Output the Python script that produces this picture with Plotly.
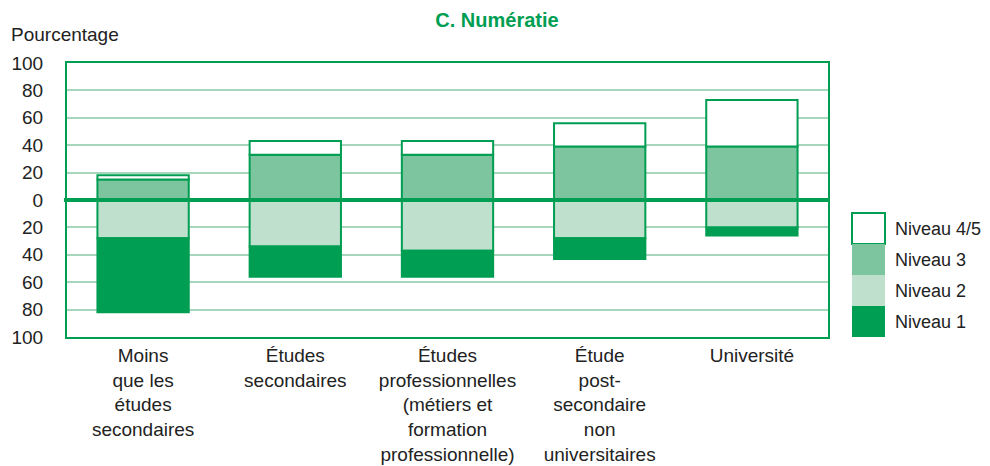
import plotly.graph_objects as go

categories = [
    "Moins<br>que les<br>études<br>secondaires",
    "Études<br>secondaires",
    "Études<br>professionnelles<br>(métiers et<br>formation<br>professionnelle)",
    "Étude<br>post-<br>secondaire<br>non<br>universitaires",
    "Université",
]
niveau_45 = [3, 10, 10, 17, 34]
niveau_3 = [15, 33, 33, 39, 39]
niveau_2 = [28, 34, 37, 28, 20]
niveau_1 = [54, 22, 19, 15, 6]

tick_vals = [100, 80, 60, 40, 20, 0, -20, -40, -60, -80, -100]
tick_text = ["100", "80", "60", "40", "20", "0", "20", "40", "60", "80", "100"]

GREEN = "#009E52"
C3 = "#7CC59E"
C2 = "#BFE0CD"
C1 = "#009E52"
C45 = "#FFFFFF"
GRID = "#A6D7BC"
FONT = "Liberation Sans, Arial, sans-serif"
TXT = "#222222"
FS = 19

# page body has an 8px margin: work in screen pixels, offset by 8
OFF = 8
W, H = 990 - OFF, 466 - OFF
L, T, R, B = 67, 63, 828, 337  # plot area in screen pixels

fig = go.Figure()
series = [
    ("Niveau 3", niveau_3, C3, 1),
    ("Niveau 4/5", niveau_45, C45, 1),
    ("Niveau 2", niveau_2, C2, -1),
    ("Niveau 1", niveau_1, C1, -1),
]
for name, vals, col, sign in series:
    fig.add_trace(go.Bar(
        x=categories, y=[sign * v for v in vals], name=name,
        marker=dict(color=col, line=dict(color=GREEN, width=2)),
        width=0.6, showlegend=False, hoverinfo="skip",
    ))

fig.update_layout(
    width=W, height=H,
    margin=dict(l=L - OFF, r=W - (R - OFF), t=T - OFF, b=H - (B - OFF)),
    barmode="relative",
    plot_bgcolor="white", paper_bgcolor="white",
    font=dict(family=FONT, size=FS, color=TXT),
    title=dict(text="<b>C. Numératie</b>", x=(497 - OFF) / W, xref="container", xanchor="center",
               y=1 - (20 - OFF) / H, yref="container", yanchor="middle",
               font=dict(family=FONT, size=20, color=GREEN)),
    xaxis=dict(showline=True, linecolor=GREEN, linewidth=2, mirror=True,
               showgrid=False, ticks="", tickfont=dict(size=FS),
               range=[-0.5, 4.5], automargin=False),
    yaxis=dict(range=[-100, 100], tickvals=tick_vals, ticktext=tick_text,
               showline=True, linecolor=GREEN, linewidth=2, mirror=True,
               showgrid=True, gridcolor=GRID, gridwidth=2,
               zeroline=False, ticks="", ticklabelstandoff=18,
               tickfont=dict(size=FS), automargin=False),
)

# thick zero line
fig.add_shape(type="line", xref="paper", yref="y", x0=-0.004, x1=1.0, y0=0, y1=0,
              line=dict(color=GREEN, width=4), layer="above")


def px_x(p):
    return (p - L) / (R - L)


def px_y(p):
    return (B - p) / (B - T)


fig.add_annotation(text="Pourcentage", xref="paper", yref="paper",
                   x=px_x(9), y=px_y(35), xanchor="left", yanchor="middle",
                   showarrow=False, font=dict(size=FS, color=TXT))

# legend swatches
legend_items = [("Niveau 4/5", C45), ("Niveau 3", C3), ("Niveau 2", C2), ("Niveau 1", C1)]
top = 213
h = 31
for i, (name, col) in enumerate(legend_items):
    y0 = top + i * h
    fig.add_shape(type="rect", xref="paper", yref="paper",
                  x0=px_x(852), x1=px_x(885), y0=px_y(y0 + h), y1=px_y(y0),
                  fillcolor=col, line=dict(color=GREEN, width=2 if col == C45 else 0))
    fig.add_annotation(text=name, xref="paper", yref="paper",
                       x=px_x(893), y=px_y(y0 + h / 2), xanchor="left", yanchor="middle",
                       showarrow=False, font=dict(size=18, color=TXT))

fig.write_html("out.html")
